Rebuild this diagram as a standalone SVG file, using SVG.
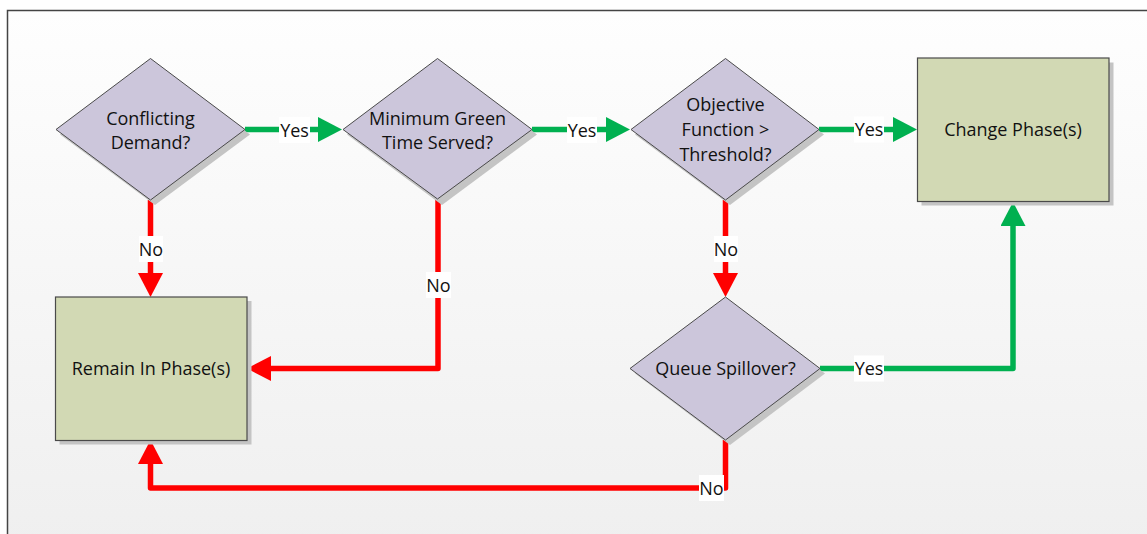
<svg xmlns="http://www.w3.org/2000/svg" width="1147" height="534" viewBox="0 0 1147 534">
<defs>
<linearGradient id="bg" x1="0" y1="0" x2="0" y2="1">
<stop offset="0" stop-color="#fefefe"/>
<stop offset="1" stop-color="#efefef"/>
</linearGradient>
<marker id="ag" markerUnits="userSpaceOnUse" viewBox="0 0 24 25" markerWidth="24" markerHeight="25" refX="0" refY="12.5" orient="auto"><path d="M0,0 L24,12.5 L0,25 z" fill="#00b050"/></marker>
<marker id="ar" markerUnits="userSpaceOnUse" viewBox="0 0 24 25" markerWidth="24" markerHeight="25" refX="0" refY="12.5" orient="auto"><path d="M0,0 L24,12.5 L0,25 z" fill="#ff0000"/></marker>
</defs>
<style>
.dia{fill:#ccc6db;stroke:#4a4a4a;stroke-width:1}
.box{fill:#d2d9b4;stroke:#4a4a4a;stroke-width:1.2}
.sh{fill:#c4c4c4}
.t{font-family:"Open Sans","Liberation Sans",sans-serif;font-size:18px;fill:#111;text-anchor:middle}
.g{fill:none;stroke:#00b050;stroke-width:5.5;stroke-linejoin:round;marker-end:url(#ag)}
.r{fill:none;stroke:#ff0000;stroke-width:5.5;stroke-linejoin:round;marker-end:url(#ar)}
.lb{fill:#ffffff}
</style>
<rect x="0" y="0" width="1147" height="534" fill="#ffffff"/>
<rect x="7.5" y="10.5" width="1160" height="540" fill="url(#bg)" stroke="#444" stroke-width="1.5"/>

<g id="connectors">
<path class="g" d="M245,129.5 H318"/>
<path class="g" d="M532,129.5 H606"/>
<path class="g" d="M819,129.5 H893"/>
<path class="g" d="M820,368.5 H1013 V226"/>
<path class="r" d="M150.5,200 V273"/>
<path class="r" d="M438,199 V368.5 H271"/>
<path class="r" d="M725.5,200 V273"/>
<path class="r" d="M725.5,440 V488 H150.5 V464"/>
<rect class="lb" x="279" y="117" width="31" height="26"/>
<text class="t" x="294.5" y="136.5">Yes</text>
<rect class="lb" x="567" y="117" width="30" height="26"/>
<text class="t" x="582" y="136.5">Yes</text>
<rect class="lb" x="854" y="116.5" width="30" height="26"/>
<text class="t" x="869" y="136">Yes</text>
<rect class="lb" x="854" y="355.5" width="30" height="26"/>
<text class="t" x="869" y="375">Yes</text>
<rect class="lb" x="139" y="236" width="24" height="26"/>
<text class="t" x="151" y="255.5">No</text>
<rect class="lb" x="426" y="272" width="25" height="26"/>
<text class="t" x="438.5" y="291.5">No</text>
<rect class="lb" x="714" y="236" width="24" height="26"/>
<text class="t" x="726" y="255.5">No</text>
<rect class="lb" x="699" y="475" width="25" height="26"/>
<text class="t" x="711.5" y="494.5">No</text>
</g>

<g id="n1">
<polygon class="sh" points="155,63 250,134.5 155,205 60,134.5"/>
<polygon class="dia" points="150.5,58.5 245,129.5 150.5,200 56,129.5"/>
<text class="t" x="150.5" y="124.5">Conflicting</text>
<text class="t" x="150.5" y="148.5">Demand?</text>
</g>
<g id="n2">
<polygon class="sh" points="442,63 537,134.5 442,205 347,134.5"/>
<polygon class="dia" points="437.5,58.5 532,129.5 437.5,199 343,129.5"/>
<text class="t" x="437.5" y="124.5">Minimum Green</text>
<text class="t" x="437.5" y="148.5">Time Served?</text>
</g>
<g id="n3">
<polygon class="sh" points="730,63 824,134.5 730,205 635,134.5"/>
<polygon class="dia" points="725.5,58.5 819,129.5 725.5,200 631,129.5"/>
<text class="t" x="725.5" y="110.5">Objective</text>
<text class="t" x="725.5" y="135.5">Function &gt;</text>
<text class="t" x="725.5" y="161">Threshold?</text>
</g>
<g id="n4">
<polygon class="sh" points="730,302 825,373.5 730,445 635,373.5"/>
<polygon class="dia" points="725.5,297 820,368.5 725.5,440 630,368.5"/>
<text class="t" x="725.5" y="375">Queue Spillover?</text>
</g>
<g id="n5">
<rect class="sh" x="921.5" y="62.5" width="192" height="143"/>
<rect class="box" x="917.5" y="58" width="191.5" height="143.5"/>
<text class="t" x="1013" y="136">Change Phase(s)</text>
</g>
<g id="n6">
<rect class="sh" x="59.5" y="301" width="192" height="143.5"/>
<rect class="box" x="55.5" y="297" width="191.5" height="143.5"/>
<text class="t" x="151" y="375">Remain In Phase(s)</text>
</g>
</svg>
